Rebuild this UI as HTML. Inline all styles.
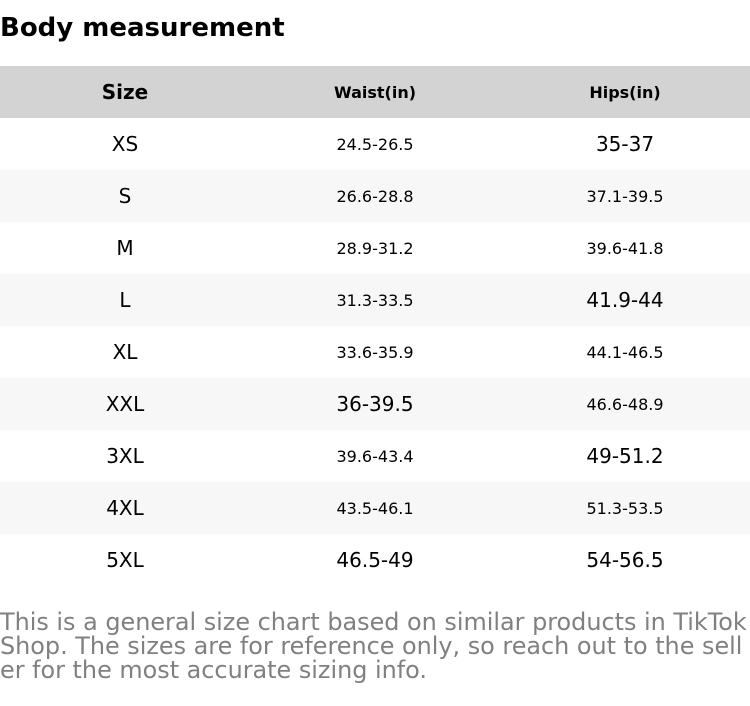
<!DOCTYPE html>
<html><head><meta charset="utf-8"><style>
html,body{margin:0;padding:0;background:#fff;width:750px;height:706px;overflow:hidden;font-family:"DejaVu Sans","Liberation Sans",sans-serif;color:#000}
h1{position:absolute;left:0;top:10px;margin:0;font-size:26px;font-weight:bold;line-height:36px}
table{position:absolute;left:0;top:66px;width:750px;border-collapse:collapse}
td,th{height:52px;padding:0;text-align:center;width:250px;font-size:16px;font-weight:normal}
th{background:#d3d3d3;font-weight:bold}
tr:nth-child(odd) td{background:#f7f7f7}
.b{font-size:20px}
.f{position:absolute;left:0;top:610px;width:752px;font-size:23.9px;line-height:24px;color:#808080;word-break:break-all}
</style></head><body>
<h1>Body measurement</h1>
<table>
<tr><th class="b">Size</th><th>Waist(in)</th><th>Hips(in)</th></tr>
<tr><td class="b">XS</td><td>24.5-26.5</td><td class="b">35-37</td></tr>
<tr><td class="b">S</td><td>26.6-28.8</td><td>37.1-39.5</td></tr>
<tr><td class="b">M</td><td>28.9-31.2</td><td>39.6-41.8</td></tr>
<tr><td class="b">L</td><td>31.3-33.5</td><td class="b">41.9-44</td></tr>
<tr><td class="b">XL</td><td>33.6-35.9</td><td>44.1-46.5</td></tr>
<tr><td class="b">XXL</td><td class="b">36-39.5</td><td>46.6-48.9</td></tr>
<tr><td class="b">3XL</td><td>39.6-43.4</td><td class="b">49-51.2</td></tr>
<tr><td class="b">4XL</td><td>43.5-46.1</td><td>51.3-53.5</td></tr>
<tr><td class="b">5XL</td><td class="b">46.5-49</td><td class="b">54-56.5</td></tr>
</table>
<div class="f">This is a general size chart based on similar products in TikTok Shop. The sizes are for reference only, so reach out to the seller for the most accurate sizing info.</div>
</body></html>
